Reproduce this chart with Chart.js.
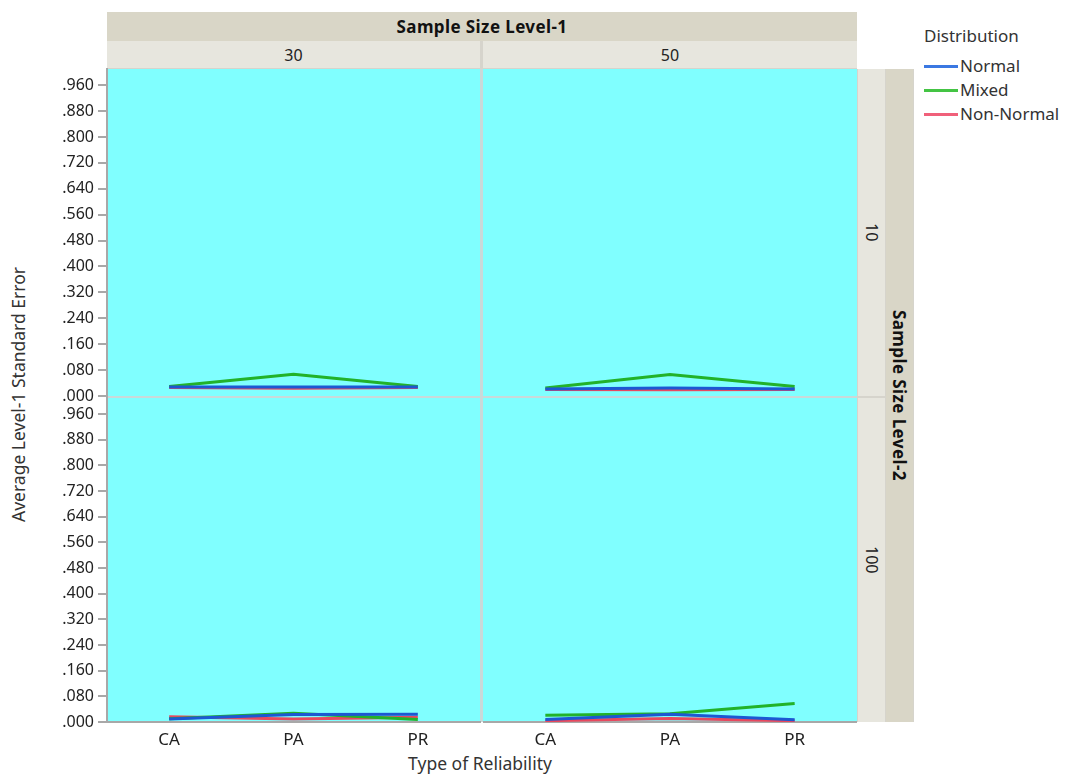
<!DOCTYPE html>
<html><head><meta charset="utf-8">
<script src="https://cdn.jsdelivr.net/npm/chart.js@4.4.0/dist/chart.umd.min.js"></script>
<style>
body{margin:0;background:#fff;width:1071px;height:775px;overflow:hidden;position:relative;font-family:"Noto Sans","Open Sans",sans-serif;color:#222}
.abs{position:absolute;box-sizing:border-box;white-space:nowrap}
canvas{position:absolute}
.ctr{display:flex;align-items:center;justify-content:center}
.vert{writing-mode:vertical-rl}
</style></head><body>
<!-- top strips -->
<div class="abs ctr" style="left:107px;top:12px;width:750px;height:29px;background:#d9d6c7;font-weight:bold;font-size:17px;letter-spacing:0.4px;color:#111">Sample Size Level-1</div>
<div class="abs" style="left:107px;top:41px;width:750px;height:28px;background:#d6d4cc"></div>
<div class="abs ctr" style="left:107px;top:41px;width:373px;height:27px;background:#e7e6de;font-size:16px;color:#222">30</div>
<div class="abs ctr" style="left:483px;top:41px;width:374px;height:27px;background:#e7e6de;font-size:16px;color:#222">50</div>
<!-- panel separator background -->
<div class="abs" style="left:107px;top:69px;width:750px;height:653px;background:#c9d9d9"></div>
<!-- right strips -->
<div class="abs" style="left:857px;top:69px;width:57px;height:653px;background:#d6d4cc"></div>
<div class="abs ctr vert" style="left:858px;top:69px;width:27px;height:327px;background:#e7e6de;font-size:16px;color:#222">10</div>
<div class="abs ctr vert" style="left:858px;top:398px;width:27px;height:324px;background:#e7e6de;font-size:16px;color:#222">100</div>
<div class="abs ctr vert" style="left:886px;top:69px;width:27px;height:653px;background:#d9d6c7;font-weight:bold;font-size:17px;letter-spacing:0.4px;color:#111">Sample Size Level-2</div>
<!-- axis titles -->
<div class="abs ctr vert" style="left:5px;top:195px;width:26px;height:400px;font-size:17.5px;color:#333;transform:rotate(180deg)">Average Level-1 Standard Error</div>
<div class="abs ctr" style="left:330px;top:751px;width:300px;height:24px;font-size:17.5px;color:#333">Type of Reliability</div>
<!-- legend -->
<div class="abs" style="left:924px;top:24px;font-size:17px;color:#333">Distribution</div>
<div id="legend"></div>

<canvas id="tl"></canvas>
<canvas id="tr"></canvas>
<canvas id="bl"></canvas>
<canvas id="br"></canvas>
<script>
const categories = ['CA', 'PA', 'PR'];
const yTickValues = [0, 0.08, 0.16, 0.24, 0.32, 0.40, 0.48, 0.56, 0.64, 0.72, 0.80, 0.88, 0.96];
const yMax = 1.01;
const seriesNames = ['Normal', 'Mixed', 'Non-Normal'];
const lineColors = ['#1c58d2', '#22b22a', '#e8485e'];
const legendColors = ['#3b78e2', '#44c444', '#f0607a'];

// Level-2 = 10, Level-1 = 30
const normal_10_30 = [0.028, 0.028, 0.028];
const mixed_10_30 = [0.029, 0.067, 0.029];
const nonNormal_10_30 = [0.026, 0.024, 0.026];
// Level-2 = 10, Level-1 = 50
const normal_10_50 = [0.022, 0.025, 0.022];
const mixed_10_50 = [0.025, 0.066, 0.029];
const nonNormal_10_50 = [0.020, 0.019, 0.020];
// Level-2 = 100, Level-1 = 30
const normal_100_30 = [0.009, 0.023, 0.024];
const mixed_100_30 = [0.010, 0.027, 0.008];
const nonNormal_100_30 = [0.016, 0.009, 0.015];
// Level-2 = 100, Level-1 = 50
const normal_100_50 = [0.008, 0.024, 0.007];
const mixed_100_50 = [0.021, 0.026, 0.058];
const nonNormal_100_50 = [0.004, 0.011, 0.004];

// HTML legend
(function(){
  const lg = document.getElementById('legend');
  seriesNames.forEach((n, i) => {
    const top = 57 + i * 24;
    lg.insertAdjacentHTML('beforeend',
      `<div class="abs" style="left:924px;top:${top+8}px;width:34px;height:3px;background:${legendColors[i]}"></div>` +
      `<div class="abs" style="left:960px;top:${top-3}px;font-size:17px;color:#333">${n}</div>`);
  });
})();

const cyanBg = {
  id: 'cyanBg',
  beforeDraw(c) {
    const a = c.chartArea, x = c.ctx;
    x.save(); x.fillStyle = '#80ffff';
    x.fillRect(a.left, a.top, a.right - a.left, a.bottom - a.top);
    x.restore();
  }
};

const FONT = '"Noto Sans","Open Sans",sans-serif';

function makePanel(id, left, top, w, h, pad, showY, showX, series) {
  const cv = document.getElementById(id);
  cv.width = w; cv.height = h;
  cv.style.left = left + 'px'; cv.style.top = top + 'px';
  new Chart(cv, {
    type: 'line',
    data: {
      labels: categories,
      datasets: series.map((d, i) => ({
        label: seriesNames[i], data: d, borderColor: lineColors[i],
        borderWidth: 3, pointRadius: 0, tension: 0, fill: false
      }))
    },
    options: {
      responsive: false, animation: false, devicePixelRatio: 1,
      layout: { padding: pad },
      plugins: { legend: { display: false }, tooltip: { enabled: false } },
      scales: {
        x: {
          type: 'category', offset: true, display: showX,
          grid: { display: false, drawTicks: false },
          border: { display: true, color: '#a8a8a8', width: 2 },
          ticks: { padding: 8, color: '#222', font: { size: 17, family: FONT } },
          afterFit(s) { if (showX) s.height = 53; }
        },
        y: {
          min: 0, max: yMax, display: showY,
          afterBuildTicks(s) { s.ticks = yTickValues.map(v => ({ value: v })); },
          afterFit(s) { if (showY) { s.width = 107; s.paddingTop = 0; s.paddingBottom = 0; } },
          ticks: {
            padding: 4, color: '#222', font: { size: 16, family: FONT },
            callback: v => '.' + Number(v).toFixed(3).split('.')[1]
          },
          grid: { drawOnChartArea: false, drawTicks: true, tickLength: 9, color: '#a8a8a8', lineWidth: 2 },
          border: { display: true, color: '#a8a8a8', width: 2 }
        }
      }
    },
    plugins: [cyanBg]
  });
}

makePanel('tl', 0, 60, 481, 350, { top: 9, bottom: 14, left: 0, right: 1 }, true, false,
  [normal_10_30, mixed_10_30, nonNormal_10_30]);
makePanel('tr', 483, 60, 374, 350, { top: 9, bottom: 14, left: 0, right: 0 }, false, false,
  [normal_10_50, mixed_10_50, nonNormal_10_50]);
makePanel('bl', 0, 389, 481, 386, { top: 9, bottom: 0, left: 0, right: 1 }, true, true,
  [normal_100_30, mixed_100_30, nonNormal_100_30]);
makePanel('br', 483, 389, 374, 386, { top: 9, bottom: 0, left: 0, right: 0 }, false, true,
  [normal_100_50, mixed_100_50, nonNormal_100_50]);
</script>
</body></html>
